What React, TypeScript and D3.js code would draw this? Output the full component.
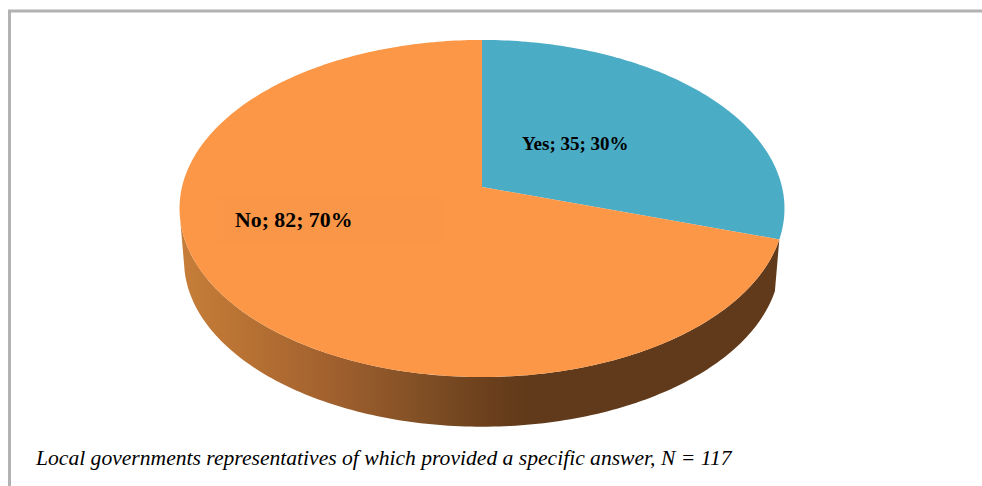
import React from "react";
import * as d3 from "d3";

// Survey answers shown on the pie
const answerLabels = ["Yes", "No"];
const answerCounts = [35, 82];
const answerShares = ["30%", "70%"];
const sliceColors = ["#4bacc6", "#fb9746"];
const wallStops: [number, string][] = [
  [0, "#c67d39"],
  [0.16, "#b87233"],
  [0.4, "#a0602e"],
  [0.66, "#7d4d24"],
  [0.82, "#6a3f1c"],
  [0.92, "#603a1a"],
  [1, "#603a1a"],
];
const caption = "Local governments representatives of which provided a specific answer, N = 117";

// Tilted-disc projection: a unit circle seen in perspective, apex off the ellipse centre
const apexX = 482;
const apexY = 187;
const radiusX = 300;
const radiusY = 165.8;
const tilt = -0.1276;
const wallDrop = 52.5;
const wallScale = 0.985;

type Pt = [number, number];

function rim(angle: number, drop = 0, scale = 1): Pt {
  const u = Math.sin(angle);
  const v = -Math.cos(angle);
  const d = 1 + tilt * v;
  return [apexX + (scale * radiusX * u) / d, apexY + drop + (scale * radiusY * v) / d];
}

function sampleAngles(a0: number, a1: number): number[] {
  const n = Math.max(8, Math.ceil(Math.abs(a1 - a0) * 60));
  return d3.range(n + 1).map((i) => a0 + ((a1 - a0) * i) / n);
}

const line = d3.line<Pt>().x((p) => p[0]).y((p) => p[1]);

export default function App() {
  const slices = d3
    .pie<number>()
    .sort(null)
    .value((d) => d)(answerCounts);

  // Side wall runs from the slice boundary on the right, round the front, to the left edge
  const wallStart = slices[1].startAngle;
  const wallEnd = (Math.PI * 3) / 2 - 0.16;
  const wallAngles = sampleAngles(wallStart, wallEnd);
  const wallPath =
    line([
      ...wallAngles.map((a) => rim(a)),
      ...wallAngles
        .slice()
        .reverse()
        .map((a) => rim(a, wallDrop, wallScale)),
    ]) + "Z";

  const slicePaths = slices.map(
    (s) => line([[apexX, apexY], ...sampleAngles(s.startAngle, s.endAngle).map((a) => rim(a))]) + "Z"
  );

  const labelText = (i: number) => `${answerLabels[i]}; ${answerCounts[i]}; ${answerShares[i]}`;

  return (
    <svg
      width={982}
      height={486}
      style={{ position: "absolute", left: 0, top: 0, background: "#fff" }}
      fontFamily="'Liberation Serif', serif"
    >
      <defs>
        <linearGradient id="wallShade" gradientUnits="userSpaceOnUse" x1={184} x2={560} y1={0} y2={0}>
          {wallStops.map(([o, c]) => (
            <stop key={o} offset={o} stopColor={c} />
          ))}
        </linearGradient>
      </defs>
      <path d="M9.5 486V11H982" fill="none" stroke="#b2b2b2" strokeWidth={3} />
      <path d={wallPath} fill="url(#wallShade)" />
      {slicePaths.map((d, i) => (
        <path key={answerLabels[i]} d={d} fill={sliceColors[i]} />
      ))}
      <rect x={217} y={197} width={226} height={46} fill="#fa9647" />
      <text x={522} y={150} fontSize={19} fontWeight="bold" fill="#000">
        {labelText(0)}
      </text>
      <text x={235} y={227} fontSize={21.8} fontWeight="bold" fill="#000">
        {labelText(1)}
      </text>
      <text x={36} y={465} fontSize={21.6} fontStyle="italic" fill="#000">
        {caption}
      </text>
    </svg>
  );
}
